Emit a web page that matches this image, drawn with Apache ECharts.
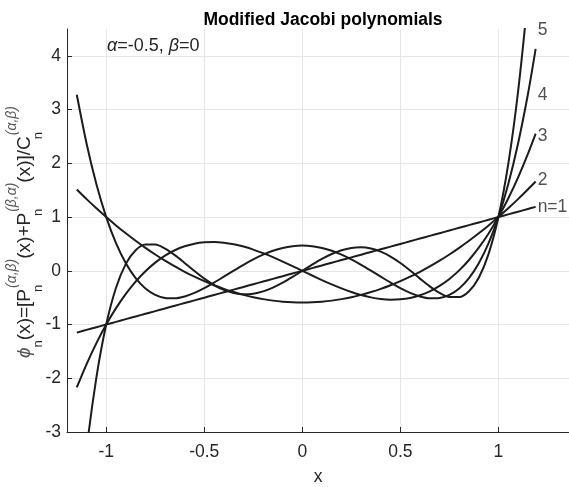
<!DOCTYPE html>
<html><head><meta charset="utf-8">
<script src="https://cdn.jsdelivr.net/npm/echarts@6/dist/echarts.min.js"></script>
<style>html,body{margin:0;padding:0;background:#fff}#c{width:569px;height:487px}</style>
</head><body><div id="c"></div>
<script>
// ---- data ----
const xs = [-1.15,-1.1,-1.05,-1,-0.95,-0.9,-0.85,-0.8,-0.75,-0.7,-0.65,-0.6,-0.55,-0.5,-0.45,-0.4,-0.35,-0.3,-0.25,-0.2,-0.15,-0.1,-0.05,0,0.05,0.1,0.15,0.2,0.25,0.3,0.35,0.4,0.45,0.5,0.55,0.6,0.65,0.7,0.75,0.8,0.85,0.9,0.95,1,1.05,1.1,1.15,1.19];
const n1 = [-1.15,-1.1,-1.05,-1,-0.95,-0.9,-0.85,-0.8,-0.75,-0.7,-0.65,-0.6,-0.55,-0.5,-0.45,-0.4,-0.35,-0.3,-0.25,-0.2,-0.15,-0.1,-0.05,0,0.05,0.1,0.15,0.2,0.25,0.3,0.35,0.4,0.45,0.5,0.55,0.6,0.65,0.7,0.75,0.8,0.85,0.9,0.95,1,1.05,1.1,1.15,1.19];
const n2 = [1.5131,1.3341,1.1631,1,0.8449,0.6977,0.5585,0.4273,0.304,0.1886,0.0813,-0.0182,-0.1097,-0.1932,-0.2688,-0.3364,-0.396,-0.4477,-0.4915,-0.5273,-0.5551,-0.575,-0.5869,-0.5909,-0.5869,-0.575,-0.5551,-0.5273,-0.4915,-0.4477,-0.396,-0.3364,-0.2688,-0.1932,-0.1097,-0.0182,0.0813,0.1886,0.304,0.4273,0.5585,0.6977,0.8449,1,1.1631,1.3341,1.5131,1.662];
const n3 = [-2.1699,-1.7353,-1.346,-1,-0.6953,-0.4298,-0.2013,-0.008,0.1523,0.2818,0.3823,0.456,0.505,0.5313,0.5369,0.524,0.4946,0.4508,0.3945,0.328,0.2532,0.1723,0.0872,0,-0.0872,-0.1723,-0.2532,-0.328,-0.3945,-0.4508,-0.4946,-0.524,-0.5369,-0.5313,-0.505,-0.456,-0.3823,-0.2818,-0.1523,0.008,0.2013,0.4298,0.6953,1,1.346,1.7353,2.1699,2.5517];
const n4 = [3.2761,2.3656,1.6121,1,0.514,0.1396,-0.1369,-0.3283,-0.4469,-0.5042,-0.511,-0.4771,-0.4119,-0.3239,-0.2208,-0.1096,0.0032,0.1122,0.2126,0.3003,0.372,0.425,0.4576,0.4686,0.4576,0.425,0.372,0.3003,0.2126,0.1122,0.0032,-0.1096,-0.2208,-0.3239,-0.4119,-0.4771,-0.511,-0.5042,-0.4469,-0.3283,-0.1369,0.1396,0.514,1,1.6121,2.3656,3.2761,4.1289];
const n5 = [-5.1003,-3.3253,-1.9821,-1,-0.3155,0.1283,0.3816,0.4888,0.4882,0.4129,0.2909,0.1454,-0.005,-0.1454,-0.2649,-0.3559,-0.414,-0.4371,-0.4261,-0.3833,-0.3132,-0.2214,-0.1145,0,0.1145,0.2214,0.3132,0.3833,0.4261,0.4371,0.414,0.3559,0.2649,0.1454,0.005,-0.1454,-0.2909,-0.4129,-0.4882,-0.4888,-0.3816,-0.1283,0.3155,1,1.9821,3.3253,5.1003,6.8834];
const curveNames = ['n=1','2','3','4','5'];
const labelTexts = ['n=1','2','3','4','5'];
const labelX = [1.2,1.2,1.2,1.2,1.2];
const labelY = [1.19,1.68,2.5,3.26,4.47];
const xTicks = [-1,-0.5,0,0.5,1];
const yTicks = [-3,-2,-1,0,1,2,3,4];

// ---- chart ----
const FONT = '"Liberation Sans", Arial, Helvetica, sans-serif';
const TXT = '#262626';
const FS = 17.5;
const chart = echarts.init(document.getElementById('c'), null, {renderer:'canvas'});
const curves = [n1,n2,n3,n4,n5];
const series = curves.map((ys,k)=>({
  type:'line', name:curveNames[k], data: xs.map((x,i)=>[x,ys[i]]),
  showSymbol:false, smooth:0.3, clip:true,
  lineStyle:{color:'#1c1c1c', width:2}, silent:true
}));
series.push({
  type:'scatter', symbolSize:0, silent:true,
  data: labelTexts.map((t,i)=>({value:[labelX[i],labelY[i]], name:t})),
  label:{show:true, position:[0,0], align:'left', verticalAlign:'middle',
    formatter:p=>p.name, fontFamily:FONT, fontSize:FS, color:TXT}
});
const axisCommon = {
  axisLine:{show:true, onZero:false, lineStyle:{color:TXT, width:1}},
  splitLine:{show:true, lineStyle:{color:'#e6e6e6', width:1}},
};
const yRich = {
  m:{fontFamily:FONT, fontSize:19, fill:TXT, lineHeight:40, verticalAlign:'middle'},
  it:{fontFamily:FONT, fontSize:19, fill:'#555', fontStyle:'italic', lineHeight:40, verticalAlign:'middle'},
  sub:{fontFamily:FONT, fontSize:13, fill:TXT, lineHeight:14, verticalAlign:'bottom'},
  subw:{fontFamily:FONT, fontSize:13, fill:TXT, lineHeight:14, verticalAlign:'bottom', width:1},
  sup:{fontFamily:FONT, fontSize:14, fill:'#555', fontStyle:'italic', lineHeight:14, verticalAlign:'top'}
};
chart.setOption({
  animation:false,
  backgroundColor:'#fff',
  title:{text:'Modified Jacobi polynomials', left:318, top:6, textAlign:'center',
    textStyle:{fontFamily:FONT, fontSize:17.5, fontWeight:'bold', color:'#000'}},
  grid:{left:67, right:0, top:29, bottom:55, outerBoundsMode:'none', containLabel:false},
  xAxis:Object.assign({type:'value', min:-1.2, max:1.36,
    name:'x', nameLocation:'middle', nameGap:36,
    nameTextStyle:{fontFamily:FONT, fontSize:FS, color:TXT},
    axisTick:{show:true, inside:true, length:5, customValues:xTicks, lineStyle:{color:TXT}},
    axisLabel:{customValues:xTicks, margin:11, fontFamily:FONT, fontSize:FS, color:TXT}
  }, axisCommon),
  yAxis:Object.assign({type:'value', min:-3, max:4.5, interval:1,
    axisTick:{show:true, inside:true, length:5, customValues:yTicks, lineStyle:{color:TXT}},
    axisLabel:{customValues:yTicks, margin:6, fontFamily:FONT, fontSize:FS, color:TXT}
  }, axisCommon),
  graphic:[
    {type:'text', left:107, top:37, silent:true,
      style:{text:'{i|α}{r|=-0.5, }{i|β}{r|=0}',
        rich:{i:{fontFamily:FONT, fontSize:18, fontStyle:'italic', fill:TXT},
              r:{fontFamily:FONT, fontSize:18, fill:TXT}},
        font:'18px '+FONT, fill:TXT}},
    {type:'text', x:25, y:232, rotation:Math.PI/2, silent:true,
      style:{text:'{it|ϕ}{sub|n}{m|(x)=[P}{subw|n}{sup|(α,β)}{m|(x)+P}{subw|n}{sup|(β,α)}{m|(x)]/C}{subw|n}{sup|(α,β)}',
        rich:yRich, align:'center', verticalAlign:'middle', font:'19px '+FONT, fill:TXT}}
  ],
  series:series
});
</script></body></html>
